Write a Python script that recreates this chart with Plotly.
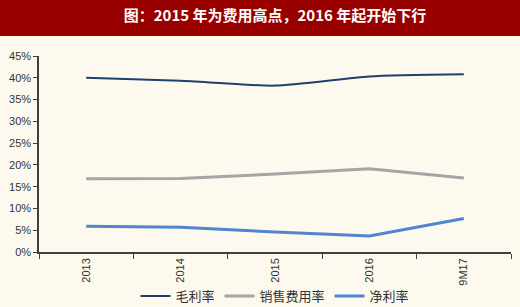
import plotly.graph_objects as go

categories = ["2013", "2014", "2015", "2016", "9M17"]
gross_margin = [40.0, 39.3, 38.2, 40.3, 40.8]
sales_expense = [16.8, 16.9, 17.9, 19.1, 17.0]
net_margin = [5.9, 5.7, 4.6, 3.7, 7.7]
series_names = ["毛利率", "销售费用率", "净利率"]
y_ticks = [0, 5, 10, 15, 20, 25, 30, 35, 40, 45]
title_text = "图：2015 年为费用高点，2016 年起开始下行"

W, H = 520, 307
ml, mr, mt, mb = 39, 9, 56, 55
ph = H - mt - mb

fig = go.Figure()
fig.add_trace(go.Scatter(x=categories, y=gross_margin, name=series_names[0], mode="lines",
                         line=dict(color="#1F3F6E", width=2, shape="spline", smoothing=0.6)))
fig.add_trace(go.Scatter(x=categories, y=sales_expense, name=series_names[1], mode="lines",
                         line=dict(color="#A5A5A5", width=3)))
fig.add_trace(go.Scatter(x=categories, y=net_margin, name=series_names[2], mode="lines",
                         line=dict(color="#4F86CF", width=3)))

def py(p):
    return (H - mb - p) / ph

fig.add_shape(type="rect", xref="paper", yref="paper",
              x0=-ml / (W - ml - mr), x1=1 + mr / (W - ml - mr),
              y0=py(36), y1=py(0), fillcolor="#990000", line=dict(width=0), layer="above")

fig.update_layout(
    width=W, height=H,
    margin=dict(l=ml, r=mr, t=mt, b=mb, autoexpand=False),
    paper_bgcolor="#FDF9EE", plot_bgcolor="#FDF9EE",
    title=dict(text=title_text, x=0.5, xanchor="center", xref="paper",
               y=1 - 16 / H, yanchor="middle",
               font=dict(family="Noto Sans CJK SC", size=15, color="#FFFFFF", weight="bold")),
    showlegend=True,
    legend=dict(orientation="h", x=0.5, xanchor="center", yref="container",
                y=1 - 296 / H, yanchor="middle",
                font=dict(family="Noto Sans CJK SC", size=13, color="#333333"),
                bgcolor="rgba(0,0,0,0)", itemwidth=30, tracegroupgap=0),
    xaxis=dict(type="category", tickson="boundaries", ticks="outside", ticklen=5,
               tickcolor="#404040", showline=True, linecolor="#404040", linewidth=1.5,
               showgrid=False, tickangle=-90, automargin=False,
               tickfont=dict(family="Liberation Sans", size=11, color="#333333"),
               range=[-0.5, 4.5]),
    yaxis=dict(range=[0, 45], tickvals=y_ticks, ticktext=[f"{v}%" for v in y_ticks],
               ticks="outside", ticklen=4, tickcolor="#404040", showline=True,
               linecolor="#404040", linewidth=1.5, showgrid=False, zeroline=False,
               automargin=False,
               tickfont=dict(family="Liberation Sans", size=11, color="#333333")),
)

fig.write_html("out.html")
